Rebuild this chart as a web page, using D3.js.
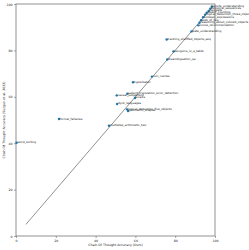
<!DOCTYPE html>
<html>
<head>
<meta charset="utf-8">
<script src="https://cdn.jsdelivr.net/npm/d3@7"></script>
<style>
  body { margin: 0; background: #fff; }
  text { font-family: "DejaVu Sans", sans-serif; }
</style>
</head>
<body>
<div id="chart"></div>
<script>
// task names and accuracies
const tasks = [
    "word_sorting", "formal_fallacies", "multistep_arithmetic_two", "causal_judgement",
    "salient_translation_error_detection", "snarks", "dyck_languages", "logical_deduction_five_objects",
    "geometric_shapes", "hyperbaton", "ruin_names", "disambiguation_qa",
    "penguins_in_a_table", "tracking_shuffled_objects_seq", "date_understanding", "movie_recommendation",
    "reasoning_about_colored_objects", "web_of_lies", "boolean_expressions", "logical_deduction_three_objects",
    "object_counting", "navigate", "temporal_sequences", "sports_understanding"
];
const oursAcc = [
    0.3, 21.6, 46.7, 50.6,
    56.0, 59.8, 50.8, 55.8,
    56.3, 58.8, 68.3, 76.0,
    79.1, 75.7, 88.2, 91.6,
    92.2, 93.0, 94.0, 95.0,
    95.8, 96.8, 97.6, 98.4
];
const suzgunAcc = [
    40.2, 50.4, 47.5, 60.6,
    61.3, 59.5, 56.9, 54.6,
    53.9, 66.3, 68.7, 76.1,
    79.6, 84.7, 88.2, 90.8,
    91.9, 93.0, 94.3, 95.4,
    96.2, 97.0, 98.0, 98.9
];
const diagonal = [5, 99];
const ticks = [0, 20, 40, 60, 80, 100];

const margin = { top: 4, right: 34, bottom: 14, left: 16 };
const width = 249 - margin.left - margin.right;
const height = 250 - margin.top - margin.bottom;

const svg = d3.select('#chart')
    .append('svg')
    .attr('width', 249)
    .attr('height', 250)
    .append('g')
    .attr('transform', 'translate(' + margin.left + ',' + margin.top + ')');

const x = d3.scaleLinear().domain([0, 100]).range([0, width]);
const y = d3.scaleLinear().domain([0, 100]).range([height, 0]);

const xAxis = svg.append('g')
    .attr('transform', `translate(0, ${height})`)
    .call(d3.axisBottom(x).tickValues(ticks).tickSize(2).tickPadding(1.5).tickSizeOuter(0));
const yAxis = svg.append('g')
    .call(d3.axisLeft(y).tickValues(ticks).tickSize(2).tickPadding(1.5).tickSizeOuter(0));
[xAxis, yAxis].forEach(a => {
    a.selectAll('text').style('font-size', '3.2px').attr('fill', '#222');
    a.selectAll('line').attr('stroke', '#666').attr('stroke-width', 0.6);
    a.select('.domain').remove();
});

// frame
svg.append('rect')
    .attr('width', width)
    .attr('height', height)
    .attr('fill', 'none')
    .attr('stroke', '#777')
    .attr('stroke-width', 0.8);

// y = x reference
svg.append('line')
    .attr('x1', x(diagonal[0])).attr('y1', y(diagonal[0]))
    .attr('x2', x(diagonal[1])).attr('y2', y(diagonal[1]))
    .attr('stroke', '#222')
    .attr('stroke-width', 0.5);

const pts = tasks.map((t, i) => ({ name: t, ours: oursAcc[i], suzgun: suzgunAcc[i] }));

svg.selectAll('.pt')
    .data(pts)
    .enter().append('circle')
    .attr('class', 'pt')
    .attr('cx', d => x(d.ours))
    .attr('cy', d => y(d.suzgun))
    .attr('r', 1.2)
    .attr('fill', '#1f77b4');

svg.selectAll('.lbl')
    .data(pts)
    .enter().append('text')
    .attr('class', 'lbl')
    .attr('x', d => x(d.ours) + 0.8)
    .attr('y', d => y(d.suzgun) + 0.5)
    .style('font-size', '2.9px')
    .attr('fill', '#111')
    .text(d => d.name);

svg.append('text')
    .attr('x', width / 2)
    .attr('y', height + 9.5)
    .style('text-anchor', 'middle')
    .style('font-size', '3.2px')
    .attr('fill', '#222')
    .text('Chain Of Thought Accuracy (Ours)');

svg.append('text')
    .attr('transform', 'rotate(-90)')
    .attr('x', -height / 2)
    .attr('y', -11.5)
    .style('text-anchor', 'middle')
    .style('font-size', '3.2px')
    .attr('fill', '#222')
    .text('Chain Of Thought Accuracy (Suzgun et al. 2022)');
</script>
</body>
</html>
